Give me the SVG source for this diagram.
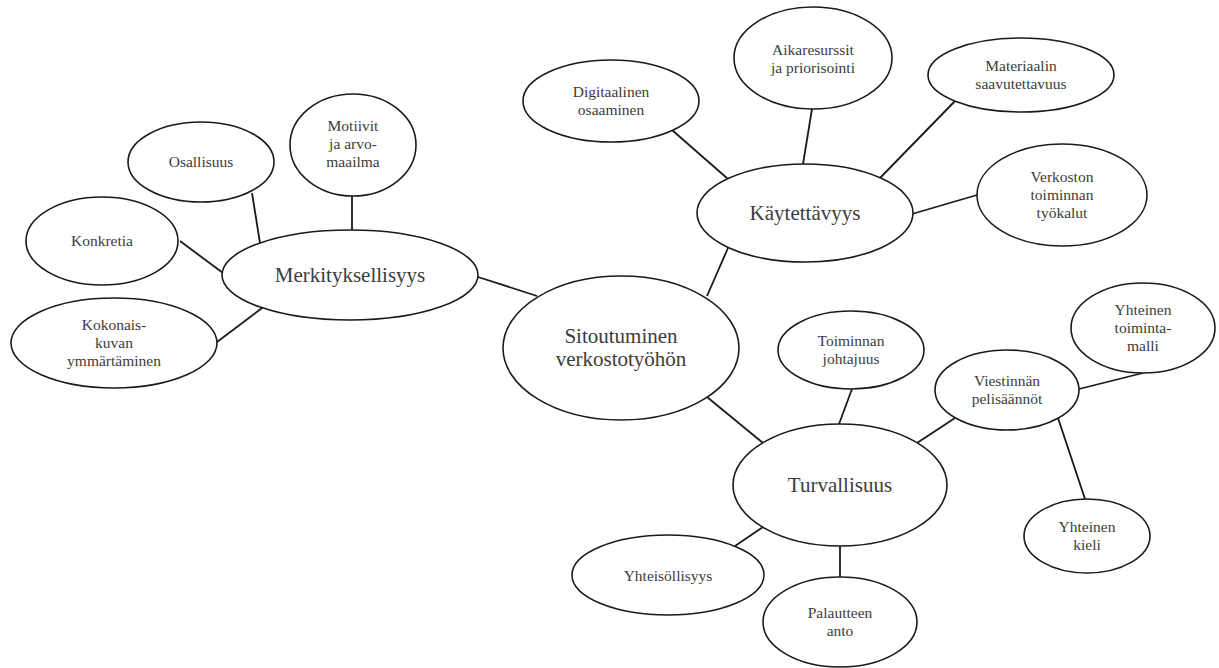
<svg xmlns="http://www.w3.org/2000/svg" width="1219" height="668" viewBox="0 0 1219 668">
<style>
  .n ellipse { fill: #ffffff; stroke: #1a1a1a; stroke-width: 1.6; }
  .n text { font-family: "Liberation Serif", "Times New Roman", serif; fill: #3c3c3c; text-anchor: middle; }
  .s text { font-size: 15.5px; }
  .b text { font-size: 21px; }
  #connectors line { stroke: #1a1a1a; stroke-width: 1.8; }
</style>
<rect width="1219" height="668" fill="#ffffff"/>
<g id="connectors">
  <line x1="478" y1="277" x2="537" y2="296"/>
  <line x1="252" y1="193" x2="260" y2="243"/>
  <line x1="352" y1="196" x2="352" y2="230"/>
  <line x1="180" y1="241" x2="223" y2="273"/>
  <line x1="217" y1="342" x2="262" y2="308"/>
  <line x1="707" y1="296" x2="728" y2="248"/>
  <line x1="672" y1="130" x2="728" y2="179"/>
  <line x1="812" y1="109" x2="803" y2="164"/>
  <line x1="955" y1="101" x2="880" y2="178"/>
  <line x1="977" y1="195" x2="912" y2="214"/>
  <line x1="707" y1="397" x2="763" y2="443"/>
  <line x1="852" y1="389" x2="839" y2="424"/>
  <line x1="955" y1="418" x2="917" y2="443"/>
  <line x1="1079" y1="389" x2="1143" y2="373"/>
  <line x1="1058" y1="418" x2="1085" y2="499"/>
  <line x1="763" y1="527" x2="735" y2="546"/>
  <line x1="840" y1="546" x2="840" y2="578"/>
</g>
<g id="sitoutuminen" class="n b">
  <ellipse cx="621" cy="348" rx="118" ry="72"/>
  <text x="621" y="343">Sitoutuminen</text>
  <text x="621" y="366">verkostotyöhön</text>
</g>
<g id="merkityksellisyys" class="n b">
  <ellipse cx="350" cy="275" rx="128" ry="45"/>
  <text x="350" y="282">Merkityksellisyys</text>
</g>
<g id="osallisuus" class="n s">
  <ellipse cx="201" cy="162" rx="73" ry="40"/>
  <text x="201" y="167">Osallisuus</text>
</g>
<g id="motiivit" class="n s">
  <ellipse cx="353" cy="145" rx="63" ry="51"/>
  <text x="353" y="131">Motiivit</text>
  <text x="353" y="149">ja arvo-</text>
  <text x="353" y="167">maailma</text>
</g>
<g id="konkretia" class="n s">
  <ellipse cx="102" cy="241" rx="76" ry="44"/>
  <text x="102" y="246">Konkretia</text>
</g>
<g id="kokonaiskuva" class="n s">
  <ellipse cx="114" cy="343" rx="103" ry="45"/>
  <text x="114" y="330">Kokonais-</text>
  <text x="114" y="348">kuvan</text>
  <text x="114" y="366">ymmärtäminen</text>
</g>
<g id="kaytettavyys" class="n b">
  <ellipse cx="805" cy="213" rx="108" ry="49"/>
  <text x="805" y="220">Käytettävyys</text>
</g>
<g id="digitaalinen" class="n s">
  <ellipse cx="611" cy="101" rx="88" ry="41"/>
  <text x="611" y="97">Digitaalinen</text>
  <text x="611" y="115">osaaminen</text>
</g>
<g id="aikaresurssit" class="n s">
  <ellipse cx="813" cy="58" rx="79" ry="51"/>
  <text x="813" y="55">Aikaresurssit</text>
  <text x="813" y="73">ja priorisointi</text>
</g>
<g id="materiaalin" class="n s">
  <ellipse cx="1021" cy="75" rx="93" ry="37"/>
  <text x="1021" y="71">Materiaalin</text>
  <text x="1021" y="89">saavutettavuus</text>
</g>
<g id="verkoston" class="n s">
  <ellipse cx="1062" cy="195" rx="85" ry="51"/>
  <text x="1062" y="182">Verkoston</text>
  <text x="1062" y="200">toiminnan</text>
  <text x="1062" y="218">työkalut</text>
</g>
<g id="turvallisuus" class="n b">
  <ellipse cx="840" cy="485" rx="107" ry="61"/>
  <text x="840" y="492">Turvallisuus</text>
</g>
<g id="toiminnan" class="n s">
  <ellipse cx="851" cy="350" rx="73" ry="39"/>
  <text x="851" y="346">Toiminnan</text>
  <text x="851" y="364">johtajuus</text>
</g>
<g id="viestinnan" class="n s">
  <ellipse cx="1007" cy="390" rx="72" ry="40"/>
  <text x="1007" y="386">Viestinnän</text>
  <text x="1007" y="404">pelisäännöt</text>
</g>
<g id="toimintamalli" class="n s">
  <ellipse cx="1143" cy="328" rx="72" ry="45"/>
  <text x="1143" y="315">Yhteinen</text>
  <text x="1143" y="333">toiminta-</text>
  <text x="1143" y="351">malli</text>
</g>
<g id="kieli" class="n s">
  <ellipse cx="1087" cy="536" rx="63" ry="37"/>
  <text x="1087" y="532">Yhteinen</text>
  <text x="1087" y="550">kieli</text>
</g>
<g id="yhteisollisyys" class="n s">
  <ellipse cx="668" cy="575" rx="96" ry="40"/>
  <text x="668" y="581">Yhteisöllisyys</text>
</g>
<g id="palautteen" class="n s">
  <ellipse cx="840" cy="622" rx="77" ry="45"/>
  <text x="840" y="618">Palautteen</text>
  <text x="840" y="636">anto</text>
</g>
</svg>
